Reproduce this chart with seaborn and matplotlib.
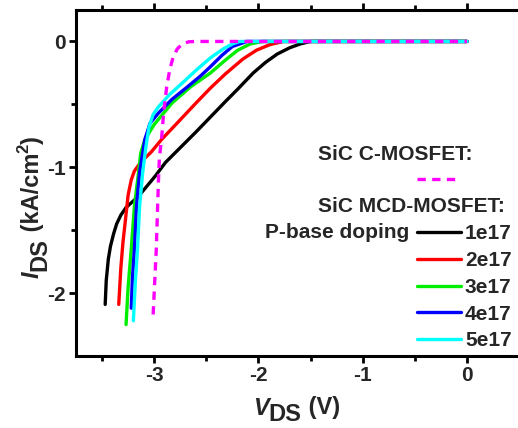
import numpy as np
import pandas as pd
import matplotlib
matplotlib.use("Agg")
import matplotlib.pyplot as plt
from matplotlib.lines import Line2D
import seaborn as sns

# ---------------- data ----------------
x_1e17 = [-3.47, -3.46, -3.44, -3.42, -3.39, -3.36, -3.32, -3.27, -3.15, -2.99, -2.89, -2.60,
          -2.32, -2.20, -2.05, -1.93, -1.82, -1.70, -1.60, -1.50, 0.0]
y_1e17 = [-2.09, -1.90, -1.73, -1.63, -1.53, -1.45, -1.38, -1.32, -1.23, -1.07, -0.96, -0.72,
          -0.48, -0.38, -0.25, -0.165, -0.10, -0.05, -0.02, 0.0, 0.0]

x_2e17 = [-3.34, -3.32, -3.30, -3.28, -3.25, -3.22, -3.19, -3.13, -3.03, -2.93, -2.77, -2.60,
          -2.46, -2.32, -2.15, -2.02, -1.89, -1.76, 0.0]
y_2e17 = [-2.09, -1.80, -1.60, -1.45, -1.22, -1.10, -1.03, -0.96, -0.88, -0.78, -0.64, -0.49,
          -0.37, -0.26, -0.14, -0.07, -0.025, 0.0, 0.0]

x_3e17 = [-3.27, -3.25, -3.22, -3.19, -3.15, -3.13, -3.09, -3.00, -2.83, -2.65, -2.46, -2.32,
          -2.20, -2.08, -1.96, 0.0]
y_3e17 = [-2.25, -1.95, -1.65, -1.31, -1.04, -0.89, -0.78, -0.66, -0.49, -0.36, -0.25, -0.15,
          -0.07, -0.02, 0.0, 0.0]

x_4e17 = [-3.22, -3.21, -3.19, -3.17, -3.14, -3.09, -3.04, -2.96, -2.83, -2.68, -2.55, -2.46,
          -2.35, -2.25, -2.11, 0.0]
y_4e17 = [-2.12, -1.90, -1.65, -1.31, -1.04, -0.78, -0.65, -0.57, -0.46, -0.36, -0.27, -0.20,
          -0.11, -0.04, 0.0, 0.0]

x_5e17 = [-3.20, -3.18, -3.16, -3.14, -3.11, -3.08, -3.05, -3.01, -2.96, -2.85, -2.73, -2.60,
          -2.46, -2.34, -2.25, -2.18, 0.0]
y_5e17 = [-2.22, -1.90, -1.65, -1.31, -1.04, -0.84, -0.68, -0.58, -0.52, -0.42, -0.33, -0.23,
          -0.13, -0.06, -0.02, 0.0, 0.0]

x_cmos = [-3.01, -2.98, -2.96, -2.95, -2.93, -2.91, -2.88, -2.85, -2.82, -2.78, -2.73, -2.67, -2.61, 0.0]
y_cmos = [-2.17, -1.65, -1.12, -0.92, -0.78, -0.57, -0.36, -0.22, -0.13, -0.06, -0.02, -0.003, 0.0, 0.0]

doping_labels = ["1e17", "2e17", "3e17", "4e17", "5e17"]
doping_colors = ["#000000", "#ff0000", "#00ee00", "#0000ff", "#00ffff"]

x_ticks = [-3, -2, -1, 0]
y_ticks = [0, -1, -2]

# ---------------- build long table ----------------
series_x = [x_1e17, x_2e17, x_3e17, x_4e17, x_5e17]
series_y = [y_1e17, y_2e17, y_3e17, y_4e17, y_5e17]
rows = []
for lab, xs, ys in zip(doping_labels, series_x, series_y):
    for a, b in zip(xs, ys):
        rows.append({"V": a, "I": b, "doping": lab})
df = pd.DataFrame(rows)
df_c = pd.DataFrame({"V": x_cmos, "I": y_cmos})

# ---------------- style ----------------
sns.set_theme(style="ticks")
plt.rcParams["font.family"] = ["Liberation Sans", "DejaVu Sans"]
plt.rcParams["font.weight"] = "bold"

W, H = 518, 428
fig = plt.figure(figsize=(W / 100, H / 100), dpi=100)
fig.patch.set_facecolor("white")

def fx(px):
    return px / W

def fy(py):
    return 1 - py / H

ax = fig.add_axes([fx(76), fy(356), fx(518) - fx(76), fy(10) - fy(356)])

lw = 2.4
sns.lineplot(data=df, x="V", y="I", hue="doping", palette=doping_colors,
             hue_order=doping_labels, sort=False, estimator=None, units="doping",
             linewidth=lw, legend=False, ax=ax)
sns.lineplot(data=df_c, x="V", y="I", color="#ff00ff", sort=False, estimator=None,
             linewidth=lw, legend=False, ax=ax)
cl = ax.get_lines()[-1]
cl.set_dashes((2.5, 1.9))
cl.set_dash_capstyle("butt")
for ln in ax.get_lines():
    ln.set_solid_joinstyle("round")

ax.set_xlim(-3.75, 0.489)
ax.set_ylim(-2.5, 0.25)
ax.set_xticks(x_ticks)
ax.set_xticklabels([str(t) for t in x_ticks])
ax.set_yticks(y_ticks)
ax.set_yticklabels([str(t) for t in y_ticks])
ax.set_xticks([-3.5, -2.5, -1.5, -0.5], minor=True)
ax.set_yticks([-1.5, -0.5], minor=True)
ax.set_xlabel("")
ax.set_ylabel("")

for s in ["left", "bottom", "top"]:
    ax.spines[s].set_linewidth(2.2)
    ax.spines[s].set_color("black")
ax.spines["right"].set_visible(False)

ax.tick_params(axis="both", which="major", direction="out", length=5, width=2.0,
               labelsize=15, pad=2.5, color="black")
ax.tick_params(axis="both", which="minor", direction="out", length=3.5, width=2.0, color="black")
ax.tick_params(axis="x", which="both", top=True)
for lab in ax.get_xticklabels() + ax.get_yticklabels():
    lab.set_fontweight("bold")

# ---------------- axis labels (full-size subscripts as in the reference) ----------------
renderer = fig.canvas.get_renderer()
lfs = 17

def chain_h(pieces, x0, y0):
    x = x0
    for txt, size, style, dy in pieces:
        t = fig.text(fx(x), fy(y0 + dy), txt, fontsize=size, fontweight="bold",
                     fontstyle=style, ha="left", va="baseline")
        bb = t.get_window_extent(renderer)
        x = bb.x1

def chain_v(pieces, x0, y0):
    y = H - y0  # display coords
    for txt, size, style, dx in pieces:
        t = fig.text(fx(x0 + dx), y / H, txt, fontsize=size, fontweight="bold",
                     fontstyle=style, ha="left", va="baseline", rotation=90,
                     rotation_mode="anchor")
        bb = t.get_window_extent(renderer)
        y = bb.y1

chain_h([("V", lfs, "italic", 0), ("DS", lfs, "normal", 6), (" (V)", lfs, "normal", -1)],
        253, 415)
chain_v([("I", lfs, "italic", 0), ("DS", lfs, "normal", 7), (" (kA/cm", lfs, "normal", 0),
         ("2", 12, "normal", -11), (")", lfs, "normal", 0)], 39, 278)

# ---------------- legend ----------------
tfs = 15
fig.text(fx(318), fy(155), "SiC C-MOSFET:", fontsize=tfs, fontweight="bold",
         ha="left", va="center")
fig.text(fx(318), fy(206), "SiC MCD-MOSFET:", fontsize=tfs, fontweight="bold",
         ha="left", va="center")
fig.text(fx(409), fy(233), "P-base doping", fontsize=tfs, fontweight="bold",
         ha="right", va="center")

handles = [Line2D([], [], color="#ff00ff", lw=lw, dashes=(2.5, 1.9), dash_capstyle="butt"),
           Line2D([], [], color="none", lw=0)]
labels = ["", ""]
for lab, col in zip(doping_labels, doping_colors):
    handles.append(Line2D([], [], color=col, lw=lw))
    labels.append(lab)
leg = ax.legend(handles, labels, loc="upper left",
                bbox_to_anchor=(fx(417), fy(171)), bbox_transform=fig.transFigure,
                frameon=False, fontsize=tfs, handlelength=2.11, handletextpad=0.19,
                labelspacing=0.37, borderpad=0, borderaxespad=0)
for t in leg.get_texts():
    t.set_fontweight("bold")

fig.savefig("out.png", dpi=100, facecolor="white")
